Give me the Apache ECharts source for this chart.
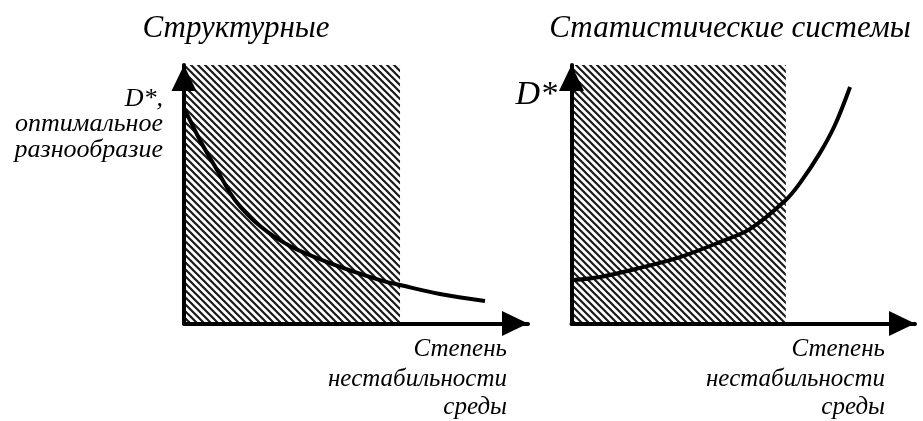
<!DOCTYPE html>
<html>
<head>
<meta charset="utf-8">
<script src="https://cdn.jsdelivr.net/npm/echarts@6/dist/echarts.min.js"></script>
<style>
  html, body { margin: 0; padding: 0; background: #fff; }
  #chart { width: 923px; height: 421px; }
</style>
</head>
<body>
<div id="chart"></div>
<script>
// левый график: структурные системы
var leftCurve = [
  [0.3, 82.6], [4.6, 71.0], [9.6, 59.4], [14.8, 47.8], [22.1, 37.7],
  [30.8, 30.0], [42.4, 23.4], [57.0, 16.8], [62.8, 14.9], [74.4, 11.4], [87.5, 8.7]
];
// правый график: статистические системы
var rightCurve = [
  [0.4, 16.8], [8.3, 18.0], [19.9, 21.5], [31.6, 25.7], [43.2, 31.5], [52.0, 36.6],
  [62.4, 47.8], [66.5, 54.3], [72.3, 65.9], [76.7, 76.8], [81.1, 91.5]
];
// заштрихованная зона (по оси x)
var leftZone = [0, 62.8];
var rightZone = [0, 62.4];

var titles = ['Структурные', 'Статистические системы'];
var yLabelLeft = ['D*,', 'оптимальное', 'разнообразие'];
var yLabelRight = 'D*';
var xLabel = ['Степень', 'нестабильности', 'среды'];

function hatch() {
  var n = 7;
  var c = document.createElement('canvas');
  c.width = n; c.height = n;
  var g = c.getContext('2d');
  g.strokeStyle = '#1a1a1a';
  g.lineWidth = 2.2;
  g.beginPath();
  g.moveTo(-1, -1); g.lineTo(n + 1, n + 1);
  g.moveTo(-1, n - 1); g.lineTo(1, n + 1);
  g.moveTo(n - 1, -1); g.lineTo(n + 1, 1);
  g.stroke();
  return c;
}
var hatchFill = { image: hatch(), repeat: 'repeat' };

var font = '"Liberation Serif", "Times New Roman", serif';

function axis(idx) {
  return {
    type: 'value',
    gridIndex: idx,
    min: 0,
    max: 100,
    z: 5,
    axisLine: {
      show: true,
      symbol: ['none', 'triangle'],
      symbolSize: [25, 26],
      symbolOffset: [0, -13],
      lineStyle: { color: '#000', width: 4 }
    },
    axisTick: { show: false },
    axisLabel: { show: false },
    splitLine: { show: false }
  };
}

function txt(str, x, baseline, size, align) {
  return {
    type: 'text',
    x: x,
    y: baseline - size * 0.3,
    style: {
      text: str,
      fontFamily: font,
      fontStyle: 'italic',
      fontSize: size,
      fill: '#000',
      align: align,
      verticalAlign: 'middle'
    }
  };
}

function series(idx, data, zone) {
  return {
    type: 'line',
    xAxisIndex: idx,
    yAxisIndex: idx,
    data: data,
    smooth: 0.35,
    showSymbol: false,
    silent: true,
    lineStyle: { color: '#000', width: 4 },
    markArea: {
      silent: true,
      itemStyle: { color: hatchFill },
      data: [[{ xAxis: zone[0], yAxis: 0 }, { xAxis: zone[1], yAxis: 100 }]]
    }
  };
}

var graphics = [
  txt(titles[0], 236, 38, 31, 'center'),
  txt(titles[1], 730, 38, 31, 'center'),
  txt(yLabelLeft[0], 163, 107, 26, 'right'),
  txt(yLabelLeft[1], 163, 132, 26, 'right'),
  txt(yLabelLeft[2], 163, 158, 26, 'right'),
  txt(yLabelRight, 557, 105, 34, 'right')
];
[507, 885].forEach(function (right) {
  graphics.push(txt(xLabel[0], right, 357, 25, 'right'));
  graphics.push(txt(xLabel[1], right, 387, 25, 'right'));
  graphics.push(txt(xLabel[2], right, 415, 25, 'right'));
});

var chart = echarts.init(document.getElementById('chart'));
chart.setOption({
  animation: false,
  backgroundColor: '#fff',
  grid: [
    { left: 184, top: 65, width: 344, height: 258.5 },
    { left: 571.5, top: 65, width: 343.5, height: 258.5 }
  ],
  xAxis: [axis(0), axis(1)],
  yAxis: [axis(0), axis(1)],
  series: [series(0, leftCurve, leftZone), series(1, rightCurve, rightZone)],
  graphic: graphics
});
</script>
</body>
</html>
